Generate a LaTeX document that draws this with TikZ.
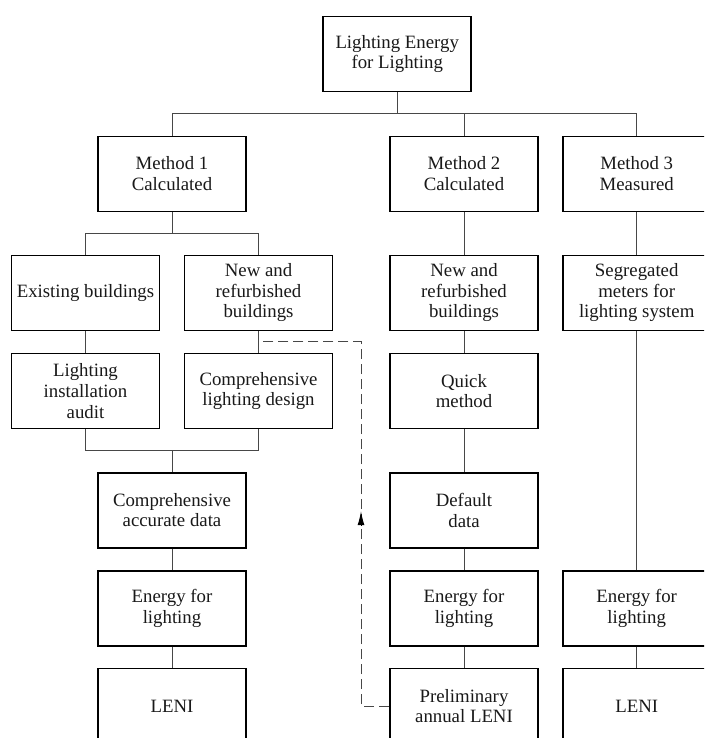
\documentclass[tikz,border=0pt]{standalone}
\usepackage{fontspec}
\setmainfont{Liberation Serif}
\usetikzlibrary{calc,arrows.meta}
\begin{document}
\begin{tikzpicture}[x=1pt,y=1pt,
  box/.style={draw=black,line width=1.6pt,minimum width=148pt,minimum height=75pt,
    inner sep=0pt,align=center,font=\fontsize{18.8}{20.7}\selectfont,text=black!90},
  conn/.style={draw=black!72,line width=1pt},
  dashconn/.style={draw=black!72,line width=1pt,dash pattern=on 10pt off 5pt},
  tip/.style={draw=black,line width=1pt,-{Latex[length=14pt,width=7pt]}}]
\useasboundingbox (0,0) rectangle (704,-738);
\clip (0,0) rectangle (704,-738);
\fill[white] (0,0) rectangle (704,-738);
% nodes
\node[box] (top) at (397.2,-54) {Lighting Energy\\for Lighting};
\node[box] (m1) at (172,-173.9) {Method 1\\Calculated};
\node[box] (m2) at (464,-173.9) {Method 2\\Calculated};
\node[box] (m3) at (636.7,-173.9) {Method 3\\Measured};
\node[box] (ex) at (85.5,-292.8) {Existing buildings};
\node[box] (nw) at (258.5,-292.8) {New and\\refurbished\\buildings};
\node[box] (nw2) at (464,-292.8) {New and\\refurbished\\buildings};
\node[box] (seg) at (636.7,-292.8) {Segregated\\meters for\\lighting system};
\node[box] (audit) at (85.5,-391) {Lighting\\installation\\audit};
\node[box] (design) at (258.5,-391) {Comprehensive\\lighting design};
\node[box] (quick) at (464,-391) {Quick\\method};
\node[box] (acc) at (172,-510.2) {Comprehensive\\accurate data};
\node[box] (def) at (464,-510.2) {Default\\data};
\node[box] (en1) at (172,-608.3) {Energy for\\lighting};
\node[box] (en2) at (464,-608.3) {Energy for\\lighting};
\node[box] (en3) at (636.7,-608.3) {Energy for\\lighting};
\node[box] (leni1) at (172,-706) {LENI};
\node[box] (prelim) at (464,-706) {Preliminary\\annual LENI};
\node[box] (leni3) at (636.7,-706) {LENI};
% bus coordinates
\coordinate (busA) at ($(top.south)!.5!(m1.north)$);
\coordinate (busB) at ($(m1.south)!.5!(ex.north)$);
\coordinate (busC) at ($(audit.south)!.5!(acc.north)$);
\coordinate (junc) at ($(nw.south)!.5!(design.north)$);
\coordinate (dx) at (361,-706);
% tree connectors
\draw[conn] (top.south) -- (top.south |- busA);
\draw[conn] (m1.north) |- (busA) -| (m3.north);
\draw[conn] (m2.north) -- (m2.north |- busA);
\draw[conn] (m1.south) -- (m1.south |- busB);
\draw[conn] (ex.north) |- (busB) -| (nw.north);
\draw[conn] (ex) -- (audit);
\draw[conn] (nw) -- (design);
\draw[conn] (audit.south) |- (busC) -| (design.south);
\draw[conn] (acc.north) -- (acc.north |- busC);
\draw[conn] (acc) -- (en1);
\draw[conn] (en1) -- (leni1);
\draw[conn] (m2) -- (nw2);
\draw[conn] (nw2) -- (quick);
\draw[conn] (quick) -- (def);
\draw[conn] (def) -- (en2);
\draw[conn] (en2) -- (prelim);
\draw[conn] (m3) -- (seg);
\draw[conn] (seg) -- (en3);
\draw[conn] (en3) -- (leni3);
% dashed feedback
\draw[dashconn] (prelim.west) -- (dx |- prelim.west) -- (dx |- junc) -- (junc);
\draw[tip] ($(dx |- acc.center)+(0,-15)$) -- ($(dx |- acc.center)+(0,-1)$);
\end{tikzpicture}
\end{document}
